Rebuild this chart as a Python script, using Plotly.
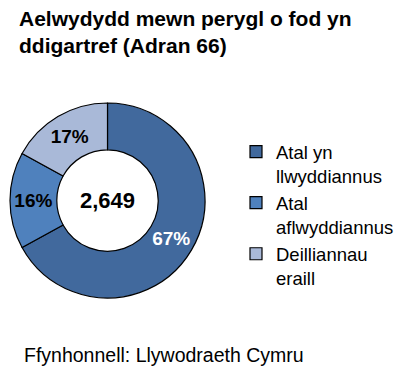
import plotly.graph_objects as go

categories = ["Atal yn<br>llwyddiannus", "Atal<br>aflwyddiannus", "Deilliannau<br>eraill"]
shares = [67, 16, 17]
total_label = "2,649"
colors = ["#41699D", "#4F81BD", "#A9B9D8"]
text_colors = ["white", "black", "black"]

FONT = "Liberation Sans, Arial, sans-serif"
W, H = 411, 376

fig = go.Figure()
fig.add_trace(go.Pie(
    labels=categories,
    values=shares,
    hole=0.52,
    sort=False,
    direction="clockwise",
    rotation=0,
    marker=dict(colors=colors, line=dict(color="black", width=1.2)),
    texttemplate="%{value}%",
    textposition="inside",
    insidetextorientation="horizontal",
    textfont=dict(family=FONT, size=19, color=text_colors, weight="bold"),
    domain=dict(x=[9 / W, 206 / W], y=[1 - 298 / H, 1 - 103 / H]),
    showlegend=True,
))

fig.update_layout(
    width=W, height=H,
    margin=dict(l=0, r=0, t=0, b=0),
    paper_bgcolor="white",
    plot_bgcolor="white",
    font=dict(family=FONT, color="black"),
    legend=dict(
        x=236 / W, xanchor="left",
        y=1 - 133 / H, yanchor="top",
        font=dict(family=FONT, size=18.5, color="black"),
        valign="top",
        bgcolor="rgba(0,0,0,0)",
    ),
    annotations=[
        dict(text="<b>Aelwydydd mewn perygl o fod yn<br>ddigartref (Adran 66)</b>",
             x=17 / W, y=1 - 5 / H, xref="paper", yref="paper",
             xanchor="left", yanchor="top", align="left", showarrow=False,
             font=dict(family=FONT, size=21, color="black")),
        dict(text="<b>" + total_label + "</b>",
             x=(9 + 206) / 2 / W, y=1 - 200 / H, xref="paper", yref="paper",
             xanchor="center", yanchor="middle", showarrow=False,
             font=dict(family=FONT, size=22, color="black")),
        dict(text="Ffynhonnell: Llywodraeth Cymru",
             x=22 / W, y=1 - 368 / H, xref="paper", yref="paper",
             xanchor="left", yanchor="bottom", showarrow=False,
             font=dict(family=FONT, size=19.5, color="black")),
    ],
)

fig.write_html("out.html")
